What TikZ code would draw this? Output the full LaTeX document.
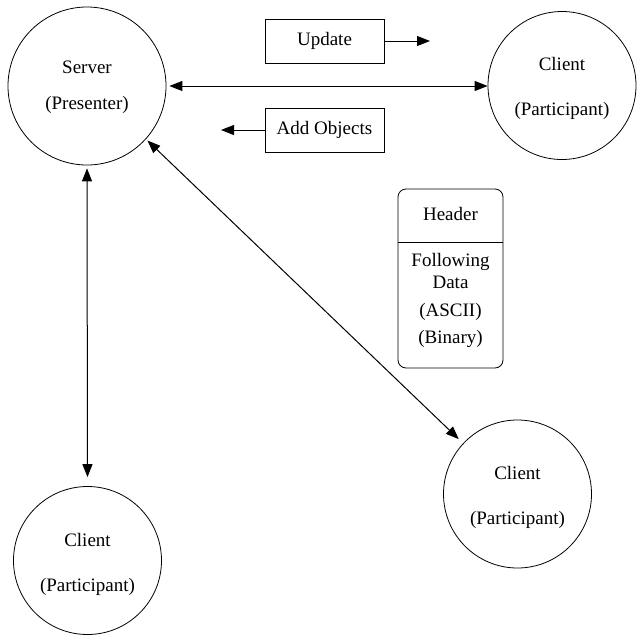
\documentclass[tikz,border=0pt]{standalone}
\usepackage{fontspec}
\setmainfont{Liberation Serif}
\usetikzlibrary{arrows.meta}
\begin{document}
\begin{tikzpicture}[x=1pt,y=-1pt,
  every node/.style={font=\fontsize{19}{22}\selectfont},
  peer/.style={draw, circle, line width=0.8pt, inner sep=0pt},
  msgbox/.style={draw, line width=0.8pt, minimum width=119pt, minimum height=44pt, inner sep=0pt},
  conn/.style={line width=1pt, -{Triangle[length=13pt,width=10pt]}},
  biconn/.style={line width=1pt, {Triangle[length=13pt,width=10pt]}-{Triangle[length=13pt,width=10pt]}},
  hbox/.style={draw, line width=0.8pt, rounded corners=8pt, minimum width=105pt, minimum height=179pt, inner sep=0pt},
  plain/.style={inner sep=0pt, align=center}
]
\useasboundingbox (0,0) rectangle (637,635);

\node[peer, minimum size=158pt] (server) at (87,86) {};
\node[peer, minimum size=148pt] (c1) at (562,85.5) {};
\node[peer, minimum size=148pt] (c2) at (87.5,560.5) {};
\node[peer, minimum size=148pt] (c3) at (517.5,494) {};
\node[plain] (tserver) at ([yshift=-1pt]server.center) {Server\\[14pt](Presenter)};
\node[plain] (tc1) at ([yshift=-3pt]c1.center) {Client\\[23pt](Participant)};
\node[plain] (tc2) at ([yshift=-3.5pt]c2.center) {Client\\[23pt](Participant)};
\node[plain] (tc3) at ([yshift=-3.5pt]c3.center) {Client\\[23pt](Participant)};

\node[msgbox] (update) at (324.5,41) {Update};
\node[msgbox] (addobj) at (324.5,130) {Add Objects};
\coordinate (updend) at (430,41);
\coordinate (addend) at (221,130);
\draw[conn] (update.east) -- (updend);
\draw[conn] (addobj.west) -- (addend);

\draw[biconn, shorten <=3pt] (server.east) -- (server.east -| c1.west);
\draw[biconn, shorten <=3pt, shorten >=9pt] (server.south) -- (c2.north);
\draw[biconn, shorten <=2pt, shorten >=6pt] (server.-42) -- (c3.137);

\node[hbox] (hdr) at (450.5,278.5) {};
\coordinate (divy) at (0,242);
\draw[line width=0.8pt] (hdr.west |- divy) -- (hdr.east |- divy);
\node[plain] (htitle) at (450.5,214) {Header};
\node[plain, anchor=north] (hbody) at (450.5,253) {Following\\Data\\[6pt](ASCII)\\[5pt](Binary)};
\end{tikzpicture}
\end{document}
